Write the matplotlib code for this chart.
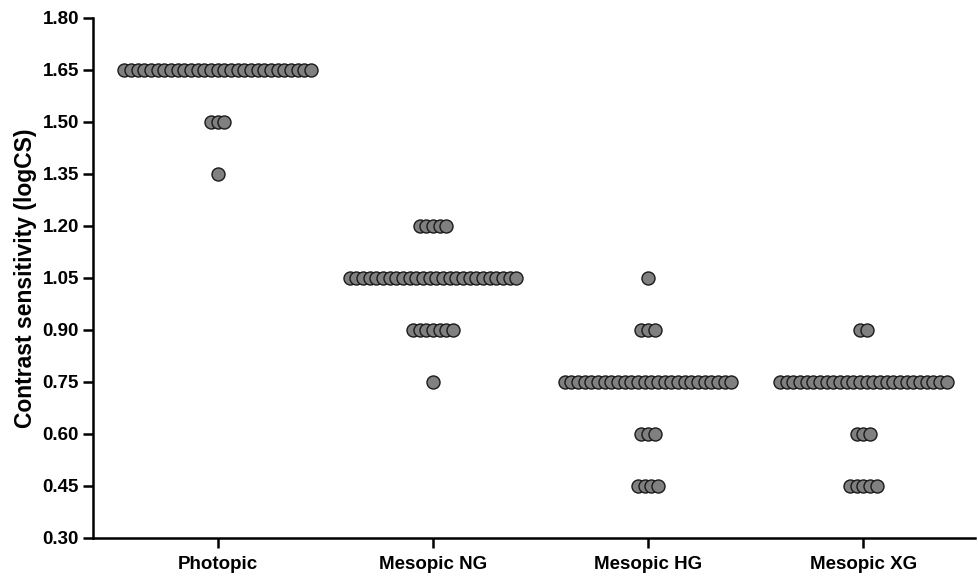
import matplotlib.pyplot as plt
import numpy as np

# data: per group, logCS levels and number of eyes at each level
groups = ["Photopic", "Mesopic NG", "Mesopic HG", "Mesopic XG"]

photopic_levels = [1.65, 1.50, 1.35]
photopic_counts = [29, 3, 1]

ng_levels = [1.20, 1.05, 0.90, 0.75]
ng_counts = [5, 26, 7, 1]

hg_levels = [1.05, 0.90, 0.75, 0.60, 0.45]
hg_counts = [1, 3, 26, 3, 4]

xg_levels = [0.90, 0.75, 0.60, 0.45]
xg_counts = [2, 26, 3, 5]

all_levels = [photopic_levels, ng_levels, hg_levels, xg_levels]
all_counts = [photopic_counts, ng_counts, hg_counts, xg_counts]

plt.rcParams["font.family"] = ["Liberation Sans", "DejaVu Sans"]
plt.rcParams["font.weight"] = "bold"

fig = plt.figure(figsize=(9.79, 5.77), dpi=100)
ax = fig.add_axes([0.095, 0.0676, 0.901, 0.9014])

step = 0.031  # horizontal spacing between stacked dots
for gi, (levels, counts) in enumerate(zip(all_levels, all_counts)):
    for val, n in zip(levels, counts):
        xs = gi + (np.arange(n) - (n - 1) / 2) * step
        ax.scatter(xs, [val] * n, s=88, color="#808080",
                   edgecolor="#1a1a1a", linewidth=1.0, zorder=3)

ax.set_xlim(-0.58, 3.52)
ax.set_ylim(0.30, 1.80)
ax.set_yticks(np.arange(0.30, 1.81, 0.15))
ax.set_yticklabels([f"{v:.2f}" for v in np.arange(0.30, 1.81, 0.15)])
ax.set_xticks(range(len(groups)))
ax.set_xticklabels(groups)

ax.set_ylabel("Contrast sensitivity (logCS)", fontsize=16.5, fontweight="bold",
              labelpad=4)
ax.tick_params(axis="both", labelsize=13.5, width=1.8, length=7, direction="out")
ax.tick_params(axis="x", pad=6)
ax.tick_params(axis="y", pad=3)

for side in ["top", "right"]:
    ax.spines[side].set_visible(False)
for side in ["left", "bottom"]:
    ax.spines[side].set_linewidth(1.8)

fig.savefig("out.png", dpi=100)
